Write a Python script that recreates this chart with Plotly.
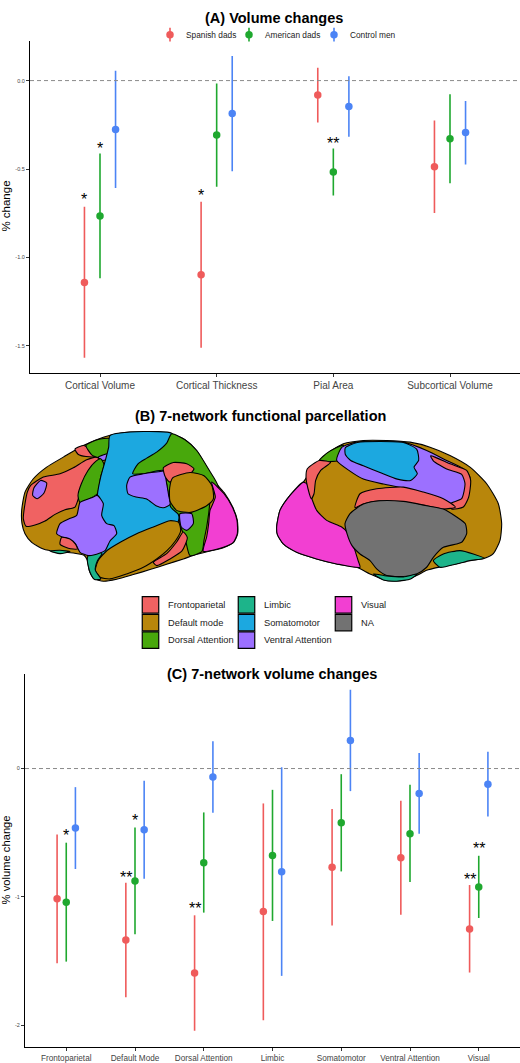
import plotly.graph_objects as go

# ---------------- data ----------------
groups = ["Spanish dads", "American dads", "Control men"]
group_colors = ["#EF5B5B", "#1FA82F", "#4C84F5"]

a_categories = ["Cortical Volume", "Cortical Thickness", "Pial Area", "Subcortical Volume"]
a_spanish = [-1.142, -1.098, -0.082, -0.487]
a_spanish_lo = [-1.567, -1.510, -0.237, -0.749]
a_spanish_hi = [-0.714, -0.685, 0.072, -0.226]
a_american = [-0.765, -0.308, -0.517, -0.329]
a_american_lo = [-1.117, -0.600, -0.649, -0.581]
a_american_hi = [-0.412, -0.017, -0.384, -0.077]
a_control = [-0.276, -0.186, -0.147, -0.293]
a_control_lo = [-0.607, -0.513, -0.318, -0.474]
a_control_hi = [0.055, 0.139, 0.025, -0.115]

# significance stars: category index, group index, label, y
a_star_cat = [0, 0, 1, 2]
a_star_grp = [0, 1, 0, 1]
a_star_txt = ["*", "*", "*", "**"]
a_star_y = [-0.658, -0.367, -0.632, -0.339]

c_categories = ["Frontoparietal", "Default Mode", "Dorsal Attention", "Limbic",
                "Somatomotor", "Ventral Attention", "Visual"]
c_spanish = [-1.014, -1.336, -1.593, -1.115, -0.770, -0.695, -1.250]
c_spanish_lo = [-1.518, -1.782, -2.044, -1.961, -1.224, -1.139, -1.590]
c_spanish_hi = [-0.514, -0.890, -1.144, -0.272, -0.316, -0.252, -0.908]
c_american = [-1.043, -0.877, -0.734, -0.677, -0.423, -0.508, -0.923]
c_american_lo = [-1.505, -1.292, -1.123, -1.188, -0.802, -0.885, -1.165]
c_american_hi = [-0.578, -0.459, -0.342, -0.166, -0.044, -0.127, -0.680]
c_control = [-0.464, -0.477, -0.065, -0.804, 0.218, -0.195, -0.122]
c_control_lo = [-0.783, -0.859, -0.345, -1.616, -0.176, -0.508, -0.374]
c_control_hi = [-0.145, -0.096, 0.213, 0.010, 0.615, 0.122, 0.130]

c_star_cat = [0, 1, 1, 2, 6, 6]
c_star_grp = [1, 0, 1, 0, 0, 1]
c_star_txt = ["*", "**", "*", "**", "**", "**"]
c_star_y = [-0.501, -0.822, -0.384, -1.066, -0.838, -0.602]

# networks (panel B legend, column-major order)
networks = ["Frontoparietal", "Default mode", "Dorsal Attention", "Limbic",
            "Somatomotor", "Ventral Attention", "Visual", "NA"]
net_colors = {
    "Frontoparietal": "#F06262",
    "Default mode": "#B8860B",
    "Dorsal Attention": "#48A80C",
    "Limbic": "#1DB48A",
    "Somatomotor": "#1CA8E0",
    "Ventral Attention": "#9C70FF",
    "Visual": "#F23FD2",
    "NA": "#727272",
}

# brain outlines, lateral view of left hemisphere
lateral_regions = [
    ("Default mode", [(35, 250), (45, 195), (70, 155), (110, 120), (160, 90), (220, 55), (280, 30),
                      (330, 18), (400, 14), (470, 18), (520, 35), (560, 70), (590, 120), (615, 165),
                      (645, 200), (668, 240), (682, 280), (683, 320), (670, 347), (640, 362), (600, 372),
                      (560, 382), (520, 396), (470, 412), (420, 428), (370, 443), (320, 457), (280, 463),
                      (252, 455), (238, 432), (232, 400), (222, 385), (190, 378), (140, 374), (100, 366),
                      (65, 346), (45, 320), (36, 290)]),
    ("Frontoparietal", [(62, 175), (100, 150), (150, 140), (190, 122), (230, 98), (262, 90), (272, 102),
                        (245, 132), (220, 175), (205, 215), (195, 240), (165, 248), (135, 262), (105, 282),
                        (75, 294), (48, 298), (40, 275), (45, 230), (52, 195)]),
    ("Ventral Attention", [(72, 182), (92, 160), (110, 168), (102, 198), (82, 215), (68, 205)]),
    ("Frontoparietal", [(195, 66), (222, 55), (245, 72), (250, 88), (228, 88), (205, 82)]),
    ("Dorsal Attention", [(228, 55), (262, 38), (300, 34), (310, 58), (298, 80), (268, 92), (246, 84)]),
    ("Ventral Attention", [(265, 90), (295, 80), (300, 92), (278, 100)]),
    ("Dorsal Attention", [(272, 95), (282, 112), (272, 150), (262, 200), (245, 212), (210, 226),
                          (204, 205), (214, 170), (234, 130), (258, 102)]),
    ("Somatomotor", [(300, 25), (400, 13), (485, 18), (500, 40), (510, 260), (500, 292), (290, 385),
                     (265, 380), (262, 205), (272, 150), (286, 100), (296, 60)]),
    ("Dorsal Attention", [(485, 20), (525, 38), (560, 70), (595, 125), (625, 180), (602, 215),
                          (596, 260), (590, 300), (582, 340), (576, 373), (540, 386), (525, 332),
                          (512, 300), (505, 262), (482, 240), (470, 170), (460, 130), (400, 140),
                          (368, 140), (384, 110), (410, 93), (440, 75), (470, 48)]),
    ("Ventral Attention", [(360, 150), (400, 140), (445, 134), (462, 132), (470, 170), (476, 205),
                           (480, 232), (460, 242), (438, 236), (410, 216), (378, 210), (354, 200),
                           (350, 175)]),
    ("Frontoparietal", [(460, 122), (490, 106), (530, 110), (552, 125), (540, 140), (500, 150),
                        (480, 165), (466, 150)]),
    ("Default mode", [(488, 152), (540, 136), (582, 146), (606, 176), (610, 216), (590, 236),
                      (542, 256), (500, 250), (480, 222), (479, 182)]),
    ("Ventral Attention", [(510, 260), (545, 260), (550, 290), (530, 310), (514, 300)]),
    ("Visual", [(605, 165), (642, 200), (667, 240), (681, 280), (682, 320), (670, 346), (640, 361),
                (580, 373), (590, 330), (596, 290), (600, 250), (616, 210)]),
    ("Frontoparietal", [(520, 315), (532, 332), (516, 372), (480, 396), (440, 416), (430, 406),
                        (470, 380), (500, 345)]),
    ("Default mode", [(265, 400), (292, 370), (332, 345), (380, 320), (430, 300), (480, 281),
                      (506, 286), (512, 312), (496, 342), (470, 372), (440, 396), (400, 421),
                      (350, 441), (300, 456), (270, 451), (256, 430)]),
    ("Limbic", [(234, 386), (265, 374), (276, 380), (262, 402), (256, 430), (272, 456), (254, 458),
                (240, 436), (232, 402)]),
    ("Limbic", [(120, 372), (150, 370), (180, 374), (150, 380)]),
    ("Ventral Attention", [(210, 226), (245, 212), (262, 205), (280, 230), (275, 265), (290, 290),
                           (312, 296), (320, 320), (300, 342), (286, 370), (270, 378), (236, 386),
                           (210, 376), (196, 350), (176, 336), (156, 330), (140, 320), (150, 290),
                           (176, 276), (200, 265), (206, 240)]),
    ("Frontoparietal", [(155, 331), (180, 336), (196, 351), (202, 366), (175, 364), (150, 352)]),
]

# medial view of right hemisphere
medial_regions = [
    ("Default mode", [(20, 300), (30, 250), (60, 205), (100, 165), (130, 120), (170, 80), (220, 50),
                      (280, 40), (350, 40), (420, 45), (480, 60), (540, 85), (600, 120), (650, 170),
                      (685, 230), (695, 290), (690, 340), (670, 380), (640, 395), (600, 400),
                      (560, 410), (510, 420), (470, 430), (440, 446), (400, 460), (350, 461),
                      (300, 441), (260, 421), (200, 411), (140, 396), (80, 376), (40, 351), (22, 322)]),
    ("Visual", [(20, 300), (30, 250), (60, 205), (100, 165), (112, 172), (122, 205), (140, 250),
                (170, 280), (215, 300), (232, 316), (250, 356), (264, 400), (270, 421), (200, 411),
                (140, 396), (80, 376), (40, 351), (22, 322)]),
    ("Dorsal Attention", [(148, 100), (175, 75), (220, 54), (226, 70), (206, 100)]),
    ("Frontoparietal", [(112, 125), (148, 100), (182, 106), (152, 130), (137, 160), (132, 200),
                        (124, 215), (114, 185), (108, 150)]),
    ("Ventral Attention", [(200, 100), (216, 60), (260, 45), (400, 45), (470, 70), (530, 100),
                           (580, 125), (600, 150), (592, 200), (576, 226), (545, 232), (500, 215),
                           (450, 196), (400, 183), (340, 171), (280, 156), (240, 132)]),
    ("Somatomotor", [(226, 62), (262, 46), (330, 43), (400, 46), (440, 66), (446, 100), (432, 120),
                     (442, 140), (422, 160), (382, 156), (330, 136), (280, 116), (242, 100), (226, 82)]),
    ("Frontoparietal", [(482, 86), (540, 110), (590, 130), (602, 160), (596, 210), (580, 240),
                        (545, 246), (540, 230), (575, 215), (585, 170), (575, 142), (530, 126),
                        (490, 101)]),
    ("Frontoparietal", [(255, 242), (270, 200), (320, 185), (400, 180), (460, 195), (520, 215),
                        (556, 240), (520, 246), (470, 236), (400, 226), (330, 221), (280, 231)]),
    ("NA", [(225, 290), (240, 260), (280, 231), (330, 221), (400, 223), (470, 236), (520, 246),
            (560, 270), (586, 290), (590, 320), (576, 345), (560, 351), (520, 361), (490, 391),
            (470, 421), (440, 441), (400, 449), (350, 446), (320, 426), (300, 401), (270, 381),
            (246, 356), (231, 320)]),
    ("Limbic", [(490, 401), (520, 381), (570, 371), (610, 381), (642, 394), (600, 401), (560, 411),
                (510, 421)]),
    ("Limbic", [(310, 441), (350, 447), (400, 450), (442, 441), (422, 456), (380, 463), (340, 459)]),
]

# ---------------- figure ----------------
W, H = 520, 1063
fig = go.Figure()

dodge = [-0.1333, 0.0, 0.1333]
font_family = "Liberation Sans, Arial, sans-serif"


def add_panel(xa, ya, cats, means, los, his):
    for g in range(3):
        xs = [i + dodge[g] for i in range(len(cats))]
        fig.add_trace(go.Scatter(
            x=xs, y=means[g], mode='markers',
            marker=dict(color=group_colors[g], size=7.5),
            error_y=dict(type='data', symmetric=False,
                         array=[h - m for h, m in zip(his[g], means[g])],
                         arrayminus=[m - l for m, l in zip(means[g], los[g])],
                         color=group_colors[g], thickness=1.6, width=0),
            xaxis=xa, yaxis=ya, showlegend=False, hoverinfo='skip'))


add_panel('x', 'y', a_categories,
          [a_spanish, a_american, a_control],
          [a_spanish_lo, a_american_lo, a_control_lo],
          [a_spanish_hi, a_american_hi, a_control_hi])
add_panel('x2', 'y2', c_categories,
          [c_spanish, c_american, c_control],
          [c_spanish_lo, c_american_lo, c_control_lo],
          [c_spanish_hi, c_american_hi, c_control_hi])

annotations = []
for cat, grp, txt, yv in zip(a_star_cat, a_star_grp, a_star_txt, a_star_y):
    annotations.append(dict(x=cat + dodge[grp], y=yv, xref='x', yref='y', text=txt,
                            showarrow=False, yshift=-3, xanchor='center',
                            font=dict(size=16, color='black', family=font_family)))
for cat, grp, txt, yv in zip(c_star_cat, c_star_grp, c_star_txt, c_star_y):
    annotations.append(dict(x=cat + dodge[grp], y=yv, xref='x2', yref='y2', text=txt,
                            showarrow=False, yshift=-3, xanchor='center',
                            font=dict(size=16, color='black', family=font_family)))


def add_brain(regions, xa, ya):
    for name, pts in regions:
        xs = [p[0] for p in pts] + [pts[0][0]]
        ys = [p[1] for p in pts] + [pts[0][1]]
        fig.add_trace(go.Scatter(
            x=xs, y=ys, mode='lines', fill='toself',
            fillcolor=net_colors[name],
            line=dict(color='black', width=1.1, shape='spline', smoothing=0.6),
            xaxis=xa, yaxis=ya, showlegend=False, hoverinfo='skip'))


add_brain(lateral_regions, 'x3', 'y3')
add_brain(medial_regions, 'x4', 'y4')

# legend for groups (pointrange glyphs) on a pixel overlay axis
leg_a_x = [170, 249, 334]
leg_a_y = 34.7
for g in range(3):
    fig.add_trace(go.Scatter(
        x=[leg_a_x[g], leg_a_x[g]], y=[leg_a_y - 7, leg_a_y + 7], mode='lines',
        line=dict(color=group_colors[g], width=1.6),
        xaxis='x5', yaxis='y5', showlegend=False, hoverinfo='skip'))
    annotations.append(dict(x=leg_a_x[g] + 14, y=leg_a_y, xref='x5', yref='y5',
                            text=groups[g], showarrow=False, xanchor='left',
                            font=dict(size=8.3, color='#222', family=font_family)))
fig.add_trace(go.Scatter(
    x=leg_a_x, y=[leg_a_y] * 3, mode='markers',
    marker=dict(color=group_colors, size=7.5),
    xaxis='x5', yaxis='y5', showlegend=False, hoverinfo='skip'))

# legend for networks (squares, 3 columns)
col_x = [150.5, 246.5, 343.5]
row_y = [606, 623.7, 641.3]
sq_x, sq_y, sq_c = [], [], []
for i, name in enumerate(networks):
    c, r = divmod(i, 3)
    sq_x.append(col_x[c])
    sq_y.append(row_y[r])
    sq_c.append(net_colors[name])
    annotations.append(dict(x=col_x[c] + 15.5, y=row_y[r], xref='x5', yref='y5',
                            text=name, showarrow=False, xanchor='left',
                            font=dict(size=9.3, color='#222', family=font_family)))
fig.add_trace(go.Scatter(
    x=sq_x, y=sq_y, mode='markers',
    marker=dict(symbol='square', size=16.5, color=sq_c, line=dict(color='black', width=1.2)),
    xaxis='x5', yaxis='y5', showlegend=False, hoverinfo='skip'))

# titles
title_font = dict(size=14.5, color='black', family=font_family)
annotations += [
    dict(x=274 / W, y=1 - 8 / H, xref='paper', yref='paper', text='<b>(A) Volume changes</b>',
         showarrow=False, font=title_font, xanchor='center'),
    dict(x=260 / W, y=1 - 417 / H, xref='paper', yref='paper',
         text='<b>(B) 7-network functional parcellation</b>', showarrow=False, font=title_font,
         xanchor='center'),
    dict(x=272 / W, y=1 - 675 / H, xref='paper', yref='paper',
         text='<b>(C) 7-network volume changes</b>', showarrow=False, font=title_font,
         xanchor='center'),
    dict(x=6 / W, y=1 - 207 / H, xref='paper', yref='paper', text='% change', textangle=-90,
         showarrow=False, xanchor='center', yanchor='middle',
         font=dict(size=11.5, color='black', family=font_family)),
    dict(x=6 / W, y=1 - 862 / H, xref='paper', yref='paper', text='% volume change', textangle=-90,
         showarrow=False, xanchor='center', yanchor='middle',
         font=dict(size=11.2, color='black', family=font_family)),
]

axis_common = dict(showgrid=False, zeroline=False, showline=True, linecolor='black', linewidth=1.1,
                   ticks='outside', ticklen=3, tickcolor='#333', tickwidth=1, fixedrange=True)
hidden = dict(visible=False, showgrid=False, zeroline=False, fixedrange=True)

fig.update_layout(
    width=W, height=H,
    margin=dict(l=0, r=0, t=0, b=0),
    paper_bgcolor='white', plot_bgcolor='rgba(0,0,0,0)',
    font=dict(family=font_family),
    showlegend=False,
    xaxis=dict(domain=[30 / W, 1], range=[-0.6, 3.6], tickvals=list(range(4)),
               ticktext=a_categories, anchor='y',
               tickfont=dict(size=10, color='#444'), **axis_common),
    yaxis=dict(domain=[1 - 373.3 / H, 1 - 40.7 / H], range=[-1.651, 0.226],
               tickvals=[-1.5, -1.0, -0.5, 0.0], ticktext=['-1.5', '-1.0', '-0.5', '0.0'],
               anchor='x', tickfont=dict(size=5.5, color='#444'), **axis_common),
    xaxis2=dict(domain=[25 / W, 1], range=[-0.6, 6.6], tickvals=list(range(7)),
                ticktext=c_categories, anchor='y2',
                tickfont=dict(size=8.2, color='#444'), **axis_common),
    yaxis2=dict(domain=[1 - 1049.3 / H, 1 - 675 / H], range=[-2.173, 0.739],
                tickvals=[-2, -1, 0], ticktext=['-2', '-1', '0'],
                anchor='x2', tickfont=dict(size=5.5, color='#444'), **axis_common),
    xaxis3=dict(domain=[10 / W, 245 / W], range=[0, 705], anchor='y3', **hidden),
    yaxis3=dict(domain=[1 - 590 / H, 1 - 428 / H], range=[486, 0], anchor='x3', **hidden),
    xaxis4=dict(domain=[270 / W, 510 / W], range=[0, 720], anchor='y4', **hidden),
    yaxis4=dict(domain=[1 - 590 / H, 1 - 428 / H], range=[486, 0], anchor='x4', **hidden),
    xaxis5=dict(domain=[0, 1], range=[0, W], anchor='y5', **hidden),
    yaxis5=dict(domain=[0, 1], range=[H, 0], anchor='x5', **hidden),
    annotations=annotations,
    shapes=[
        dict(type='line', xref='x domain', yref='y', x0=0, x1=1, y0=0, y1=0,
             line=dict(color='#8a8a8a', width=1, dash='4px,3px')),
        dict(type='line', xref='x2 domain', yref='y2', x0=0, x1=1, y0=0, y1=0,
             line=dict(color='#8a8a8a', width=1, dash='4px,3px')),
    ],
)

# the page body has a default 8px margin; drop it so the figure fills the window
fig.write_html("out.html", config={'displayModeBar': False},
               post_script="document.body.style.margin='0px';")
